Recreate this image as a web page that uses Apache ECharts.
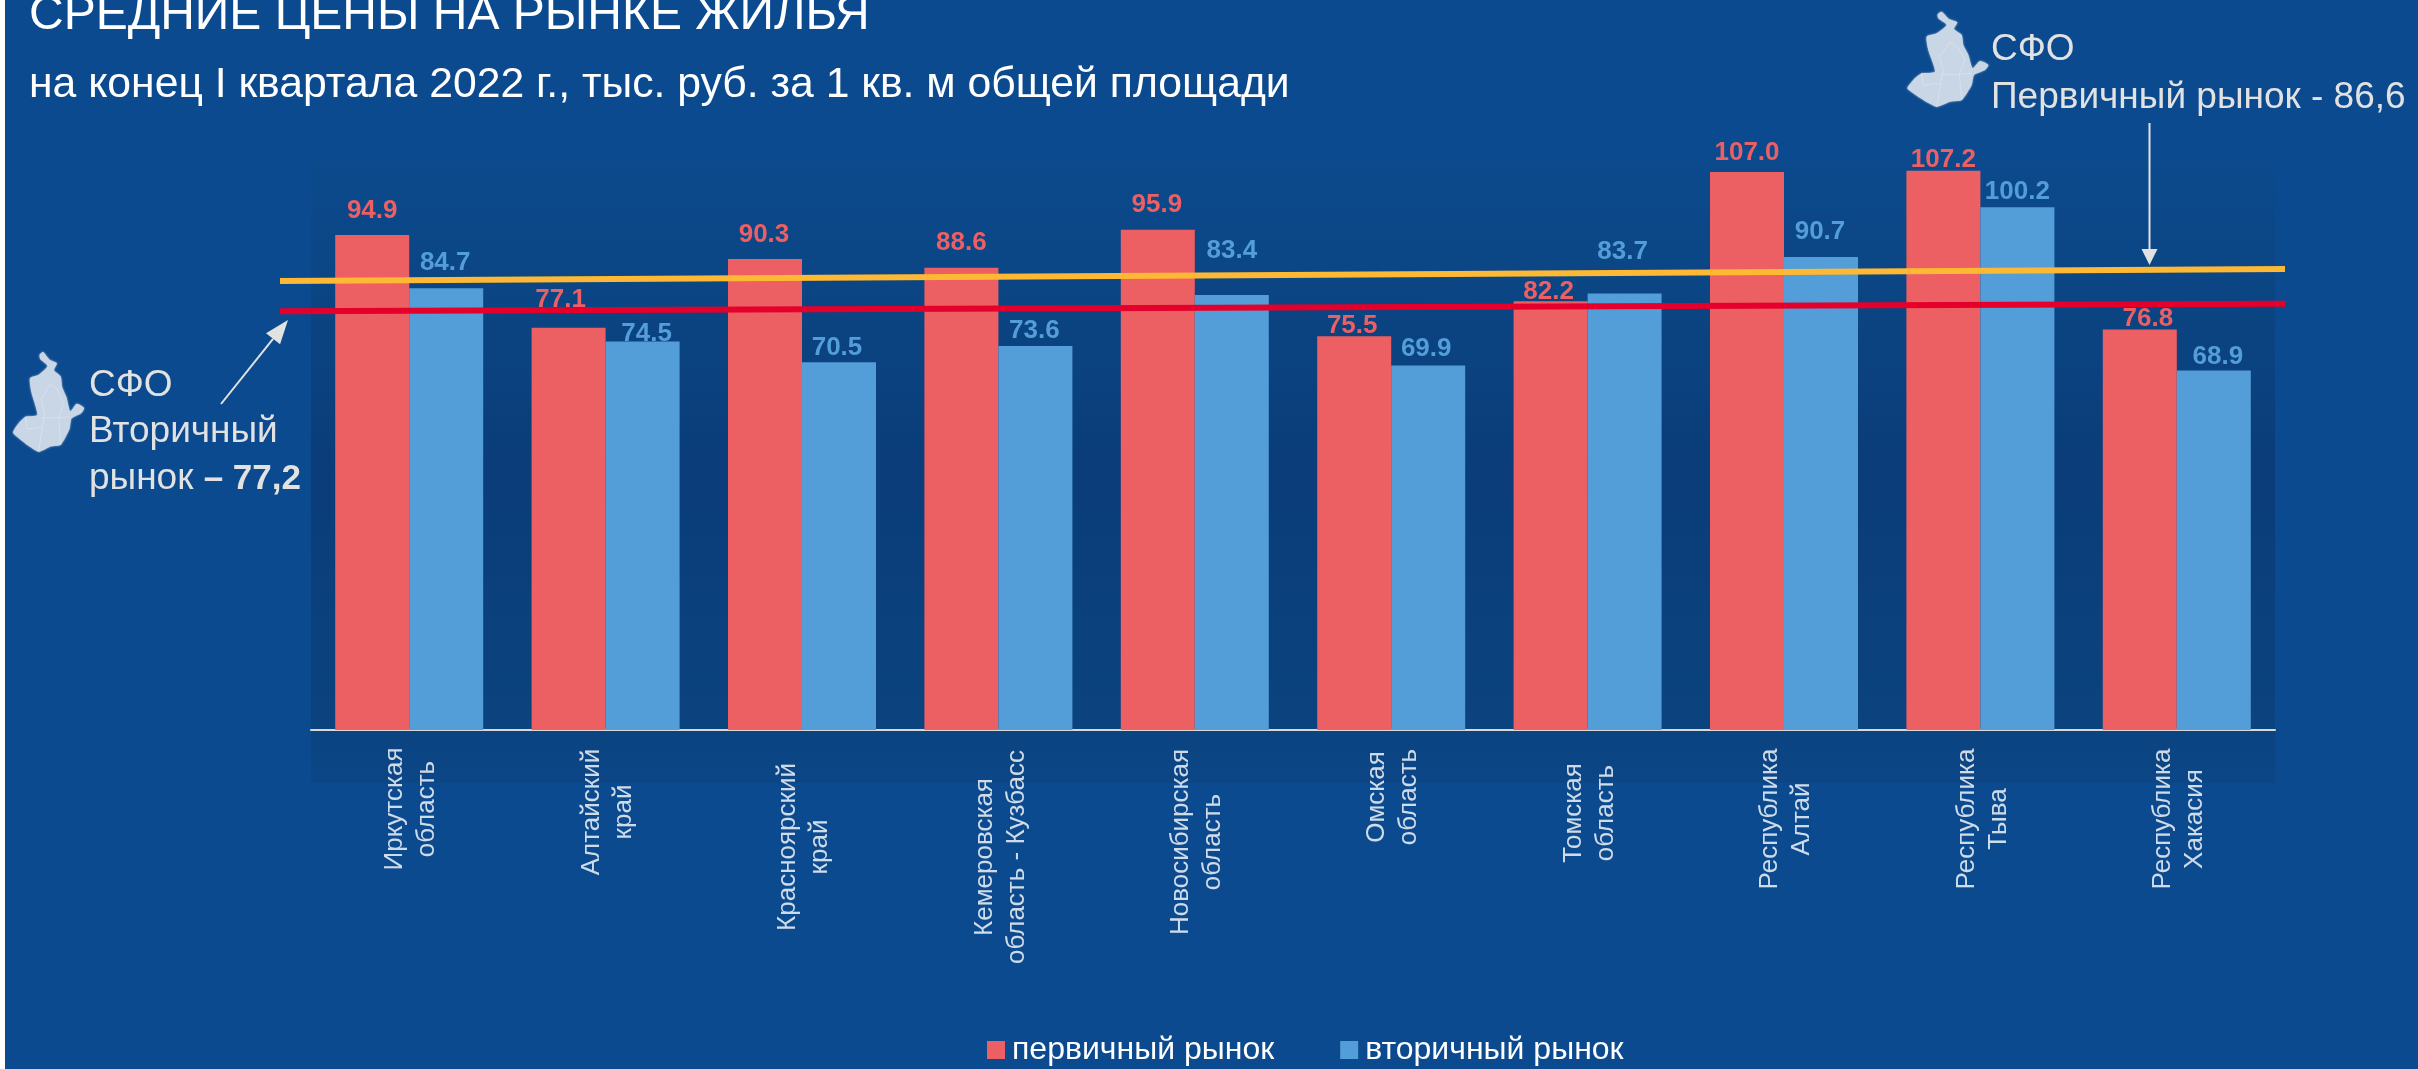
<!DOCTYPE html>
<html>
<head>
<meta charset="utf-8">
<title>Средние цены на рынке жилья</title>
<script src="https://cdn.jsdelivr.net/npm/echarts@6/dist/echarts.min.js"></script>
<style>
  html, body { margin: 0; padding: 0; background: #0c4a8f; }
  #chart { width: 2418px; height: 1069px; }
</style>
</head>
<body>
<div id="chart"></div>
<script>
const categories = [
  'Иркутская\nобласть', 'Алтайский\nкрай', 'Красноярский\nкрай', 'Кемеровская\nобласть - Кузбасс',
  'Новосибирская\nобласть', 'Омская\nобласть', 'Томская\nобласть', 'Республика\nАлтай',
  'Республика\nТыва', 'Республика\nХакасия'
];
const primaryValues = [94.9, 77.1, 90.3, 88.6, 95.9, 75.5, 82.2, 107.0, 107.2, 76.8];
const secondaryValues = [84.7, 74.5, 70.5, 73.6, 83.4, 69.9, 83.7, 90.7, 100.2, 68.9];
// the two district lines lean slightly in the picture, so start and end differ
const primaryAvgLine = [86.1, 88.4];
const secondaryAvgLine = [80.3, 81.7];

// hand placed labels, the source slide does not keep them on the bars
const primaryLabelOffsets = [[0, -12], [-8, -16], [-1, -12], [0, -13], [-1, -13], [-2, 2], [-2, 3], [0, -7], [0, 1], [8, 1]];
const secondaryLabelOffsets = [[-1, -13], [4, 4], [-2, -2], [-1, -3], [0, -32], [-2, -5], [-2, -30], [-1, -13], [0, -4], [4, -2]];
const categoryLabelShift = [79, 82, 117, 127, 112, 67, 83, 89, 89, 89];

const RED = '#ec5f63';
const BLUE = '#539dd8';
const FONT = '"Liberation Sans", Arial, sans-serif';
const NOTE = '#e2e2e2';

// outline of the Siberian district, traced from the right icon
const mapOutline = [[113,28],[125,20],[147,42],[172,52],[162,72],[185,90],[190,120],[205,150],[218,190],[240,168],[265,180],[255,195],[222,210],[215,240],[185,285],[150,290],[110,305],[70,285],[40,265],[22,250],[40,225],[65,205],[105,200],[85,135],[80,95],[110,85],[140,60],[115,40]];
const mapBorders = [
  [[150,112],[118,155],[130,195],[122,235],[110,305]],
  [[150,112],[172,125],[195,165],[178,208],[185,285]],
  [[122,208],[178,208],[215,205]],
  [[65,205],[70,240],[122,235]]
];

function mapIcon(x0, y0, sx, sy) {
  const scale = p => [x0 + p[0] / 3 * sx, y0 + p[1] / 3 * sy];
  return [
    {
      type: 'polygon', z: 100,
      shape: { points: mapOutline.map(scale), smooth: 0.2 },
      style: { fill: '#c9d6e6', shadowBlur: 2, shadowColor: '#c9d6e6' }
    },
    ...mapBorders.map(b => ({
      type: 'polyline', z: 101,
      shape: { points: b.map(scale) },
      style: { stroke: '#d8e1ec', lineWidth: 1, fill: null }
    }))
  ];
}

function noteText(x, y, text, rich) {
  return {
    type: 'text', z: 100, x: x, y: y,
    style: { text: text, fill: NOTE, font: '37px ' + FONT, verticalAlign: 'middle', rich: rich }
  };
}

function arrow(x1, y1, x2, y2, headLen, headHalf) {
  const a = Math.atan2(y2 - y1, x2 - x1);
  const bx = x2 - headLen * Math.cos(a), by = y2 - headLen * Math.sin(a);
  const nx = -Math.sin(a) * headHalf, ny = Math.cos(a) * headHalf;
  return [
    { type: 'line', z: 100, shape: { x1: x1, y1: y1, x2: bx, y2: by }, style: { stroke: NOTE, lineWidth: 2 } },
    { type: 'polygon', z: 100, shape: { points: [[x2, y2], [bx + nx, by + ny], [bx - nx, by - ny]] }, style: { fill: NOTE } }
  ];
}

const myChart = echarts.init(document.getElementById('chart'));

const sharedY = { type: 'value', min: 0, max: 110, show: false };

const option = {
  animation: false,
  backgroundColor: '#0c4a8f',
  textStyle: { fontFamily: FONT },
  title: [
    { text: 'СРЕДНИЕ ЦЕНЫ НА РЫНКЕ ЖИЛЬЯ', left: 29, top: -8, padding: 0, textStyle: { color: '#fff', fontSize: 48, fontWeight: 'normal', fontFamily: FONT } },
    { text: 'на конец I квартала 2022 г., тыс. руб. за 1 кв. м общей площади', left: 29, top: 64, padding: 0, textStyle: { color: '#fff', fontSize: 42.7, fontWeight: 'normal', fontFamily: FONT } }
  ],
  legend: {
    left: 987, top: 1034, padding: 0, itemWidth: 18, itemHeight: 18, itemGap: 66,
    icon: 'rect',
    data: ['первичный рынок', 'вторичный рынок'],
    textStyle: { color: '#fff', fontSize: 32, fontFamily: FONT, padding: [0, 0, 0, 2] }
  },
  grid: [
    { left: 311, top: 156.24, width: 1964, height: 573.76 },
    { left: 280, top: 156.24, width: 2005, height: 573.76 }
  ],
  xAxis: [
    {
      type: 'category', gridIndex: 0, data: categories,
      axisTick: { show: false },
      axisLabel: { show: false },
      axisLine: { lineStyle: { color: '#d9d9d9', width: 2 } }
    },
    { type: 'value', gridIndex: 1, min: 0, max: 1, show: false }
  ],
  yAxis: [
    Object.assign({ gridIndex: 0 }, sharedY),
    Object.assign({ gridIndex: 1 }, sharedY)
  ],
  series: [
    {
      name: 'первичный рынок', type: 'bar', barWidth: 74, barGap: '0%',
      itemStyle: { color: RED },
      label: { show: true, position: 'top', distance: 0, color: RED, fontSize: 26, fontWeight: 'bold', lineHeight: 24, formatter: p => p.value.toFixed(1) },
      data: primaryValues.map((v, i) => ({ value: v, label: { offset: primaryLabelOffsets[i] } }))
    },
    {
      name: 'вторичный рынок', type: 'bar', barWidth: 74, barGap: '0%',
      itemStyle: { color: BLUE },
      label: { show: true, position: 'top', distance: 0, color: BLUE, fontSize: 26, fontWeight: 'bold', lineHeight: 24, formatter: p => p.value.toFixed(1) },
      data: secondaryValues.map((v, i) => ({ value: v, label: { offset: secondaryLabelOffsets[i] } }))
    },
    {
      // category names sit at uneven heights, so they hang off the axis zero.
      // offset works in the rotated frame of the label: -x is down on screen
      name: 'подписи', type: 'scatter', symbolSize: 0, silent: true,
      data: categories.map((c, i) => ({
        value: [i, 0],
        label: { offset: [-categoryLabelShift[i], 2] }
      })),
      label: {
        show: true, position: 'inside', rotate: 90, align: 'center', verticalAlign: 'middle',
        color: '#fff', fontSize: 26, lineHeight: 32,
        formatter: p => categories[p.dataIndex]
      }
    },
    {
      name: 'СФО первичный', type: 'line', xAxisIndex: 1, yAxisIndex: 1, z: 10, symbol: 'none', silent: true,
      lineStyle: { color: '#fdb933', width: 6 },
      data: primaryAvgLine.map((v, i) => [i, v])
    },
    {
      name: 'СФО вторичный', type: 'line', xAxisIndex: 1, yAxisIndex: 1, z: 10, symbol: 'none', silent: true,
      lineStyle: { color: '#e4002b', width: 6 },
      data: secondaryAvgLine.map((v, i) => [i, v])
    }
  ],
  graphic: [
    { type: 'rect', z: 0, shape: { x: 0, y: 0, width: 5, height: 1069 }, style: { fill: '#fff' } },
    {
      type: 'rect', z: 0, shape: { x: 311, y: 157, width: 1964, height: 626 },
      style: {
        fill: new echarts.graphic.LinearGradient(0, 0, 0, 1, [
          { offset: 0, color: '#0c4a8d' },
          { offset: 0.25, color: '#0b4482' },
          { offset: 0.5, color: '#0a3d79' },
          { offset: 0.9, color: '#0b437f' },
          { offset: 1, color: '#0b4687' }
        ])
      }
    },
    ...mapIcon(6.6, 345, 0.877, 1.05),
    ...mapIcon(1900, 5, 1, 1),
    noteText(89, 386, 'СФО'),
    noteText(89, 432, 'Вторичный'),
    noteText(89, 479, 'рынок {b|– 77,2}', { b: { fill: NOTE, font: 'bold 35px ' + FONT } }),
    noteText(1991, 50, 'СФО'),
    noteText(1991, 98, 'Первичный рынок - 86,6'),
    ...arrow(221, 404, 288, 320, 24, 9),
    ...arrow(2149.5, 123, 2149.5, 265, 16, 8)
  ]
};

myChart.setOption(option);
</script>
</body>
</html>
